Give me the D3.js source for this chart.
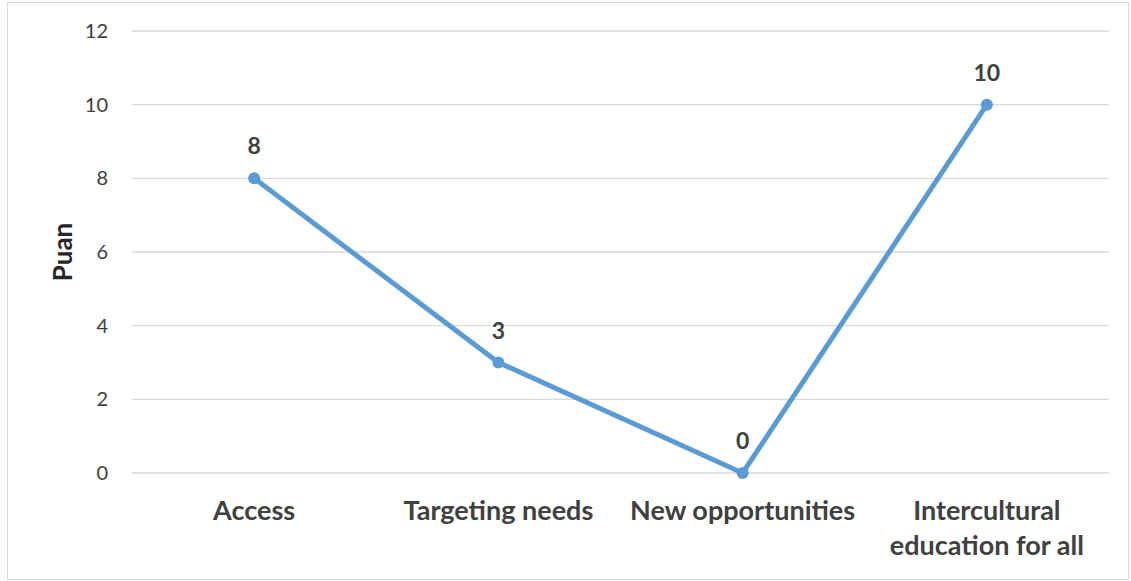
<!DOCTYPE html>
<html>
<head>
<meta charset="utf-8">
<script src="https://cdn.jsdelivr.net/npm/d3@7/dist/d3.min.js"></script>
<style>
  html, body { margin: 0; padding: 0; background: #fff; }
  svg { display: block; font-family: Lato, "Open Sans", sans-serif; }
</style>
</head>
<body>
<svg id="chart" width="1131" height="581"></svg>
<script>
// Scores per dimension
const categories = ["Access", "Targeting needs", "New opportunities", "Intercultural education for all"];
const categoryLines = [["Access"], ["Targeting needs"], ["New opportunities"], ["Intercultural", "education for all"]];
const scores = [8, 3, 0, 10];
const yTicks = [0, 2, 4, 6, 8, 10, 12];
const yTitle = "Puan";

const svg = d3.select("#chart");
const W = 1131, H = 581;
const plot = { left: 132, right: 1109, top: 31, bottom: 473 };

// Outer chart frame
svg.append("rect")
  .attr("x", 7.5).attr("y", 2.5)
  .attr("width", W - 10).attr("height", H - 4)
  .attr("fill", "#fff").attr("stroke", "#d9d9d9").attr("stroke-width", 1);

const x = d3.scalePoint().domain(categories).range([plot.left, plot.right]).padding(0.5);
const y = d3.scaleLinear().domain([0, 12]).range([plot.bottom, plot.top]);

// Horizontal gridlines
svg.append("g").selectAll("line").data(yTicks).join("line")
  .attr("x1", plot.left).attr("x2", plot.right)
  .attr("y1", d => y(d)).attr("y2", d => y(d))
  .attr("stroke", "#d9d9d9").attr("stroke-width", 1.3);

// Y axis labels
const yAxis = svg.append("g")
  .attr("transform", `translate(${plot.left},0)`)
  .call(d3.axisLeft(y).tickValues(yTicks).tickSize(0).tickPadding(24));
yAxis.select(".domain").remove();
yAxis.selectAll("text")
  .attr("font-family", "Lato, 'Open Sans', sans-serif")
  .attr("font-size", 20).attr("fill", "#404040");

// Y axis title
svg.append("text")
  .attr("transform", `translate(72,${(plot.top + plot.bottom) / 2}) rotate(-90)`)
  .attr("text-anchor", "middle")
  .attr("font-size", 26).attr("font-weight", "bold").attr("fill", "#262626")
  .text(yTitle);

// X category labels
const xl = svg.append("g").selectAll("text").data(categories).join("text")
  .attr("x", d => x(d)).attr("y", 520)
  .attr("text-anchor", "middle")
  .attr("font-size", 27).attr("font-weight", "bold").attr("fill", "#404040");
xl.each(function(d, i) {
  d3.select(this).selectAll("tspan").data(categoryLines[i]).join("tspan")
    .attr("x", x(d)).attr("dy", (t, j) => j === 0 ? 0 : 35)
    .text(t => t);
});

// Score line
const pts = categories.map((c, i) => ({ c, v: scores[i] }));
svg.append("path")
  .datum(pts)
  .attr("fill", "none").attr("stroke", "#5b9bd5")
  .attr("stroke-width", 5).attr("stroke-linejoin", "round")
  .attr("d", d3.line().x(d => x(d.c)).y(d => y(d.v)));

svg.append("g").selectAll("circle").data(pts).join("circle")
  .attr("cx", d => x(d.c)).attr("cy", d => y(d.v)).attr("r", 6)
  .attr("fill", "#5b9bd5");

// Value labels
svg.append("g").selectAll("text").data(pts).join("text")
  .attr("x", d => x(d.c)).attr("y", d => y(d.v) - 24)
  .attr("text-anchor", "middle")
  .attr("font-size", 23).attr("font-weight", "bold").attr("fill", "#404040")
  .text(d => d.v);
</script>
</body>
</html>
